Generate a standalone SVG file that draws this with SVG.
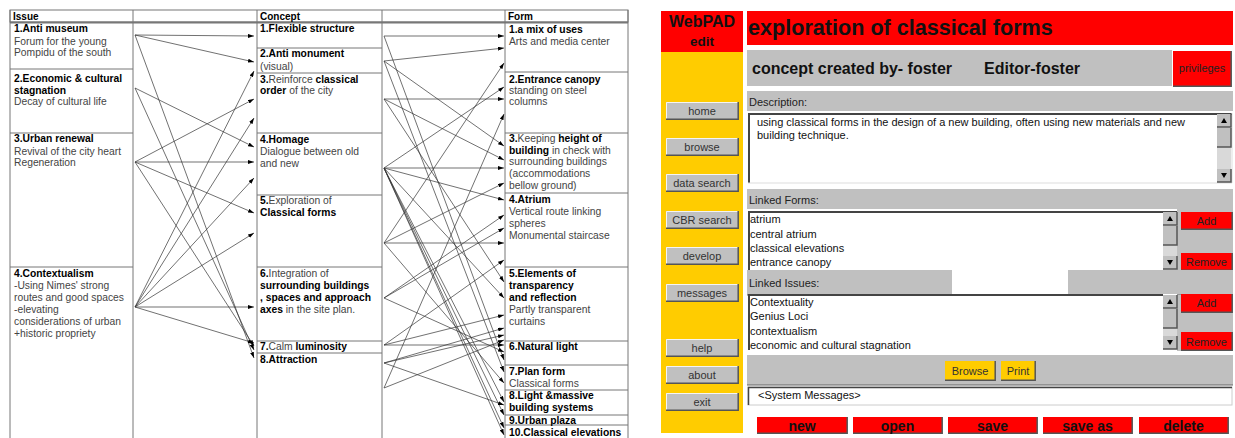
<svg xmlns="http://www.w3.org/2000/svg" width="1235" height="438" viewBox="0 0 1235 438">
<defs>
<marker id="ah" viewBox="0 0 6 4" refX="6" refY="2" markerWidth="6" markerHeight="4" orient="auto" markerUnits="userSpaceOnUse"><path d="M0,0 L6,2 L0,4 z" fill="#000"/></marker>
<style>
text{font-family:"Liberation Sans",Arial,sans-serif}
.h{font-size:10px;font-weight:bold;fill:#000}
.b{font-size:10.3px;font-weight:bold;fill:#000}
.n{font-size:10.3px;fill:#444}
.bb{font-weight:bold;fill:#000}
.nn{font-weight:normal;fill:#444}
.grid{stroke:#777;stroke-width:1;fill:none}
.conn line{stroke:#333;stroke-width:0.7;marker-end:url(#ah)}
.ui{font-size:11px;fill:#222}
.sb{fill:#c0c0c0}
.dk{stroke:#555;stroke-width:1.5;fill:none}
.lt{stroke:#f4f4f4;stroke-width:1;fill:none}
.red{fill:#ff0000}
.yel{fill:#ffcc00}
.btn{font-size:11px;fill:#333;text-anchor:middle}
.rbt{font-size:14px;font-weight:bold;fill:#111;text-anchor:middle}
.li{font-size:11px;fill:#111}
</style>
</defs>
<rect width="1235" height="438" fill="#fff"/>

<!-- table grid -->
<g id="table-grid" class="grid">
<rect x="10" y="10" width="618" height="12"/>
<line x1="10" y1="22.5" x2="628" y2="22.5" stroke-width="2"/>
<line x1="10" y1="10" x2="10" y2="438"/>
<line x1="133" y1="10" x2="133" y2="438"/>
<line x1="257" y1="10" x2="257" y2="438"/>
<line x1="382" y1="10" x2="382" y2="438"/>
<line x1="505" y1="10" x2="505" y2="438"/>
<line x1="628" y1="10" x2="628" y2="438"/>
<line x1="10" y1="69" x2="133" y2="69"/>
<line x1="10" y1="133" x2="133" y2="133"/>
<line x1="10" y1="267" x2="133" y2="267"/>
<line x1="257" y1="48" x2="382" y2="48"/>
<line x1="257" y1="73" x2="382" y2="73"/>
<line x1="257" y1="133" x2="382" y2="133"/>
<line x1="257" y1="195" x2="382" y2="195"/>
<line x1="257" y1="267" x2="382" y2="267"/>
<line x1="257" y1="341" x2="382" y2="341"/>
<line x1="257" y1="353" x2="382" y2="353"/>
<line x1="505" y1="72" x2="628" y2="72"/>
<line x1="505" y1="133" x2="628" y2="133"/>
<line x1="505" y1="193" x2="628" y2="193"/>
<line x1="505" y1="267" x2="628" y2="267"/>
<line x1="505" y1="341" x2="628" y2="341"/>
<line x1="505" y1="365" x2="628" y2="365"/>
<line x1="505" y1="390" x2="628" y2="390"/>
<line x1="505" y1="415" x2="628" y2="415"/>
<line x1="505" y1="425" x2="628" y2="425"/>
</g>

<g id="headers">
<text class="h" x="13" y="19.5">Issue</text>
<text class="h" x="260" y="19.5">Concept</text>
<text class="h" x="508" y="19.5">Form</text>
</g>

<g id="issue-1"><text class="b" x="14" y="32">1.Anti museum</text><text class="n" x="14" y="45">Forum for the young</text><text class="n" x="14" y="56">Pompidu of the south</text></g>
<g id="issue-2"><text class="b" x="14" y="82">2.Economic &amp; cultural</text><text class="b" x="14" y="94">stagnation</text><text class="n" x="14" y="105">Decay of cultural life</text></g>
<g id="issue-3"><text class="b" x="14" y="142">3.Urban renewal</text><text class="n" x="14" y="155">Revival of the city heart</text><text class="n" x="14" y="166">Regeneration</text></g>
<g id="issue-4"><text class="b" x="14" y="277">4.Contextualism</text><text class="n" x="14" y="289">-Using Nimes' strong</text><text class="n" x="14" y="301">routes and good spaces</text><text class="n" x="14" y="313">-elevating</text><text class="n" x="14" y="325">considerations of urban</text><text class="n" x="14" y="337">+historic propriety</text></g>

<g id="concept-1"><text class="b" x="260" y="32">1.Flexible structure</text></g>
<g id="concept-2"><text class="b" x="260" y="57">2.Anti monument</text><text class="n" x="260" y="70">(visual)</text></g>
<g id="concept-3"><text class="n" x="260" y="83"><tspan class="bb">3.</tspan>Reinforce <tspan class="bb">classical</tspan></text><text class="n" x="260" y="94"><tspan class="bb">order</tspan> of the city</text></g>
<g id="concept-4"><text class="b" x="260" y="143">4.Homage</text><text class="n" x="260" y="155">Dialogue between old</text><text class="n" x="260" y="167">and new</text></g>
<g id="concept-5"><text class="n" x="260" y="204"><tspan class="bb">5.</tspan>Exploration of</text><text class="b" x="260" y="216">Classical forms</text></g>
<g id="concept-6"><text class="n" x="260" y="277"><tspan class="bb">6.</tspan>Integration of</text><text class="b" x="260" y="289">surrounding buildings</text><text class="b" x="260" y="301">, spaces and approach</text><text class="n" x="260" y="313"><tspan class="bb">axes</tspan>  in the site plan.</text></g>
<g id="concept-7"><text class="n" x="260" y="350"><tspan class="bb">7.</tspan>Calm <tspan class="bb">luminosity</tspan></text></g>
<g id="concept-8"><text class="b" x="260" y="363">8.Attraction</text></g>

<g id="form-1"><text class="b" x="509" y="33">1.a mix of uses</text><text class="n" x="509" y="45">Arts and media center</text></g>
<g id="form-2"><text class="b" x="509" y="83">2.Entrance canopy</text><text class="n" x="509" y="94">standing on steel</text><text class="n" x="509" y="105">columns</text></g>
<g id="form-3"><text class="n" x="509" y="142"><tspan class="bb">3.</tspan>Keeping <tspan class="bb">height of</tspan></text><text class="n" x="509" y="154"><tspan class="bb">building</tspan> in check with</text><text class="n" x="509" y="165">surrounding buildings</text><text class="n" x="509" y="177">(accommodations</text><text class="n" x="509" y="189">bellow ground)</text></g>
<g id="form-4"><text class="b" x="509" y="203">4.Atrium</text><text class="n" x="509" y="215">Vertical route linking</text><text class="n" x="509" y="227">spheres</text><text class="n" x="509" y="239">Monumental staircase</text></g>
<g id="form-5"><text class="b" x="509" y="277">5.Elements of</text><text class="b" x="509" y="289">transparency</text><text class="b" x="509" y="301">and reflection</text><text class="n" x="509" y="313">Partly transparent</text><text class="n" x="509" y="325">curtains</text></g>
<g id="form-6"><text class="b" x="509" y="350">6.Natural light</text></g>
<g id="form-7"><text class="b" x="509" y="375">7.Plan form</text><text class="n" x="509" y="387">Classical forms</text></g>
<g id="form-8"><text class="b" x="509" y="399">8.Light &amp;massive</text><text class="b" x="509" y="411">building systems</text></g>
<g id="form-9"><text class="b" x="509" y="423.5">9.Urban plaza</text></g>
<g id="form-10"><text class="b" x="509" y="436">10.Classical elevations</text></g>

<g id="connectors" class="conn">
<line x1="135" y1="35" x2="254" y2="36"/>
<line x1="135" y1="35" x2="254" y2="62"/>
<line x1="135" y1="35" x2="254" y2="358"/>
<line x1="135" y1="88" x2="254" y2="147"/>
<line x1="135" y1="88" x2="254" y2="350"/>
<line x1="135" y1="162" x2="254" y2="99"/>
<line x1="135" y1="162" x2="254" y2="162"/>
<line x1="135" y1="162" x2="254" y2="213"/>
<line x1="135" y1="162" x2="254" y2="346"/>
<line x1="135" y1="307" x2="254" y2="71"/>
<line x1="135" y1="307" x2="254" y2="118"/>
<line x1="135" y1="307" x2="254" y2="178"/>
<line x1="135" y1="307" x2="254" y2="233"/>
<line x1="135" y1="307" x2="254" y2="307"/>
<line x1="135" y1="307" x2="254" y2="343"/>

<line x1="384" y1="36" x2="504" y2="36"/>
<line x1="384" y1="36" x2="504" y2="360"/>
<line x1="384" y1="61" x2="504" y2="48"/>
<line x1="384" y1="61" x2="504" y2="146"/>
<line x1="384" y1="61" x2="504" y2="372"/>
<line x1="384" y1="99" x2="504" y2="99"/>
<line x1="384" y1="99" x2="504" y2="160"/>
<line x1="384" y1="99" x2="504" y2="282"/>
<line x1="384" y1="168" x2="504" y2="87"/>
<line x1="384" y1="168" x2="504" y2="168"/>
<line x1="384" y1="168" x2="504" y2="200"/>
<line x1="384" y1="168" x2="504" y2="298"/>
<line x1="384" y1="168" x2="504" y2="402"/>
<line x1="384" y1="168" x2="504" y2="415"/>
<line x1="384" y1="168" x2="504" y2="428"/>
<line x1="384" y1="168" x2="504" y2="435"/>
<line x1="384" y1="243" x2="504" y2="63"/>
<line x1="384" y1="243" x2="504" y2="183"/>
<line x1="384" y1="243" x2="504" y2="243"/>
<line x1="384" y1="243" x2="504" y2="383"/>
<line x1="384" y1="298" x2="504" y2="215"/>
<line x1="384" y1="298" x2="504" y2="228"/>
<line x1="384" y1="298" x2="504" y2="352"/>
<line x1="384" y1="345" x2="504" y2="260"/>
<line x1="384" y1="345" x2="504" y2="315"/>
<line x1="384" y1="345" x2="504" y2="345"/>
<line x1="384" y1="363" x2="504" y2="328"/>
<line x1="384" y1="363" x2="504" y2="335"/>
<line x1="384" y1="363" x2="504" y2="405"/>
<line x1="384" y1="388" x2="504" y2="114"/>
<line x1="384" y1="388" x2="504" y2="340"/>
</g>

<!-- WebPAD screen -->
<g id="sidebar">
<rect class="red" x="661" y="11" width="82" height="41"/>
<rect class="yel" x="661" y="52" width="82" height="381"/>
<text x="702" y="27" text-anchor="middle" font-size="16" font-weight="bold" fill="#111">WebPAD</text>
<text x="702" y="45.5" text-anchor="middle" font-size="13.5" font-weight="bold" fill="#111">edit</text>
</g>
<g id="btn-home"><rect class="sb" x="666" y="102" width="72" height="17"/><path class="lt" d="M666.5,119 V102.5 H738"/><path class="dk" d="M666,119.2 H738.2 V102"/><text class="btn" x="702" y="115">home</text></g>
<g id="btn-browse"><rect class="sb" x="666" y="138" width="72" height="17"/><path class="lt" d="M666.5,155 V138.5 H738"/><path class="dk" d="M666,155.2 H738.2 V138"/><text class="btn" x="702" y="151">browse</text></g>
<g id="btn-data-search"><rect class="sb" x="666" y="174" width="72" height="17"/><path class="lt" d="M666.5,191 V174.5 H738"/><path class="dk" d="M666,191.2 H738.2 V174"/><text class="btn" x="702" y="187">data search</text></g>
<g id="btn-cbr-search"><rect class="sb" x="666" y="211" width="72" height="17"/><path class="lt" d="M666.5,228 V211.5 H738"/><path class="dk" d="M666,228.2 H738.2 V211"/><text class="btn" x="702" y="224">CBR search</text></g>
<g id="btn-develop"><rect class="sb" x="666" y="247" width="72" height="17"/><path class="lt" d="M666.5,264 V247.5 H738"/><path class="dk" d="M666,264.2 H738.2 V247"/><text class="btn" x="702" y="260">develop</text></g>
<g id="btn-messages"><rect class="sb" x="666" y="284" width="72" height="17"/><path class="lt" d="M666.5,301 V284.5 H738"/><path class="dk" d="M666,301.2 H738.2 V284"/><text class="btn" x="702" y="297">messages</text></g>
<g id="btn-help"><rect class="sb" x="666" y="339" width="72" height="17"/><path class="lt" d="M666.5,356 V339.5 H738"/><path class="dk" d="M666,356.2 H738.2 V339"/><text class="btn" x="702" y="352">help</text></g>
<g id="btn-about"><rect class="sb" x="666" y="366" width="72" height="17"/><path class="lt" d="M666.5,383 V366.5 H738"/><path class="dk" d="M666,383.2 H738.2 V366"/><text class="btn" x="702" y="379">about</text></g>
<g id="btn-exit"><rect class="sb" x="666" y="393" width="72" height="17"/><path class="lt" d="M666.5,410 V393.5 H738"/><path class="dk" d="M666,410.2 H738.2 V393"/><text class="btn" x="702" y="406">exit</text></g>

<g id="title-bar">
<rect class="red" x="747" y="11" width="486" height="34"/>
<text x="748" y="35" font-size="21.6" font-weight="bold" fill="#111">exploration of classical forms</text>
</g>
<g id="creator-bar">
<rect class="sb" x="747" y="50" width="425" height="36"/>
<text x="752" y="74" font-size="16" font-weight="bold" fill="#111">concept created by- foster</text>
<text x="984" y="74" font-size="16" font-weight="bold" fill="#111">Editor-foster</text>
</g>
<g id="btn-privileges">
<rect class="red" x="1173" y="51" width="58" height="35"/>
<path class="dk" d="M1173,86.2 H1231.2 V51"/>
<text x="1202" y="72" font-size="11" fill="#222" text-anchor="middle">privileges</text>
</g>

<g id="description">
<rect class="sb" x="747" y="91" width="486" height="20"/>
<text class="ui" x="749" y="106">Description:</text>
<rect x="748" y="113" width="484" height="70" fill="#fff"/>
<path d="M749,183 V114 H1232" stroke="#444" stroke-width="2" fill="none"/>
<path d="M748,183 H1232 V113" stroke="#ddd" stroke-width="1" fill="none"/>
<text class="li" x="757" y="126">using classical forms in the design of a new building, often using new materials and new</text>
<text class="li" x="757" y="139">building technique.</text>
<rect x="1217" y="114" width="14" height="68" fill="#d9d9d9"/>
<rect class="sb" x="1217" y="114" width="14" height="13"/><path class="dk" d="M1217,127 H1231 V114" stroke-width="1"/><path d="M1221,123 L1224,118 L1227,123 z" fill="#000"/>
<rect class="sb" x="1217" y="128" width="14" height="19"/><path class="dk" d="M1217,147 H1231 V128" stroke-width="1"/>
<rect class="sb" x="1217" y="169" width="14" height="13"/><path class="dk" d="M1217,182 H1231 V169" stroke-width="1"/><path d="M1221,173 L1224,178 L1227,173 z" fill="#000"/>
</g>

<g id="linked-forms">
<rect class="sb" x="747" y="189" width="486" height="20"/>
<rect class="sb" x="1177" y="209" width="56" height="63"/>
<text class="ui" x="749" y="204">Linked Forms:</text>
<rect x="748" y="211" width="429" height="61" fill="#fff"/>
<path d="M749,272 V212 H1177" stroke="#444" stroke-width="2" fill="none"/>
<text class="li" x="750" y="223">atrium</text>
<text class="li" x="750" y="238">central atrium</text>
<text class="li" x="750" y="252">classical elevations</text>
<text class="li" x="750" y="266">entrance canopy</text>
<rect x="1163" y="212" width="14" height="58" fill="#d9d9d9"/>
<rect class="sb" x="1163" y="212" width="14" height="13"/><path class="dk" d="M1163,225 H1177 V212" stroke-width="1"/><path d="M1167,221 L1170,216 L1173,221 z" fill="#000"/>
<rect class="sb" x="1163" y="226" width="14" height="19"/><path class="dk" d="M1163,245 H1177 V226" stroke-width="1"/>
<rect class="sb" x="1163" y="256" width="14" height="13"/><path class="dk" d="M1163,269 H1177 V256" stroke-width="1"/><path d="M1167,260 L1170,265 L1173,260 z" fill="#000"/>
</g>
<g id="btn-add-forms"><rect class="red" x="1181" y="212" width="51" height="17"/><path class="dk" d="M1181,229.2 H1232.2 V212"/><text x="1206.5" y="225" font-size="11" fill="#222" text-anchor="middle">Add</text></g>
<g id="btn-remove-forms"><rect class="red" x="1181" y="253" width="51" height="17"/><path class="dk" d="M1181,270.2 H1232.2 V253"/><text x="1206.5" y="266" font-size="11" fill="#222" text-anchor="middle">Remove</text></g>

<g id="linked-issues">
<rect class="sb" x="747" y="270" width="205" height="25"/>
<rect class="sb" x="1068" y="270" width="165" height="25"/>
<path d="M747,295 H952 M1068,295 H1233" stroke="#666" stroke-width="1"/>
<rect class="sb" x="1177" y="295" width="56" height="56"/>
<text class="ui" x="749" y="287">Linked Issues:</text>
<rect x="748" y="294" width="429" height="56" fill="#fff"/>
<path d="M749,350 V295 H1163" stroke="#444" stroke-width="2" fill="none"/>
<text class="li" x="750" y="306">Contextuality</text>
<text class="li" x="750" y="320">Genius Loci</text>
<text class="li" x="750" y="335">contextualism</text>
<text class="li" x="750" y="349">economic and cultural stagnation</text>
<rect x="1163" y="295" width="14" height="54" fill="#d9d9d9"/>
<rect class="sb" x="1163" y="295" width="14" height="13"/><path class="dk" d="M1163,308 H1177 V295" stroke-width="1"/><path d="M1167,304 L1170,299 L1173,304 z" fill="#000"/>
<rect class="sb" x="1163" y="309" width="14" height="19"/><path class="dk" d="M1163,328 H1177 V309" stroke-width="1"/>
<rect class="sb" x="1163" y="336" width="14" height="13"/><path class="dk" d="M1163,349 H1177 V336" stroke-width="1"/><path d="M1167,340 L1170,345 L1173,340 z" fill="#000"/>
</g>
<g id="btn-add-issues"><rect class="red" x="1181" y="294" width="51" height="18"/><path class="dk" d="M1181,312.2 H1232.2 V294"/><text x="1206.5" y="307" font-size="11" fill="#222" text-anchor="middle">Add</text></g>
<g id="btn-remove-issues"><rect class="red" x="1181" y="332" width="51" height="18"/><path class="dk" d="M1181,350.2 H1232.2 V332"/><text x="1206.5" y="345.5" font-size="11" fill="#222" text-anchor="middle">Remove</text></g>

<g id="action-bar">
<rect class="sb" x="747" y="355" width="486" height="30"/>
<path d="M747,385 H1233" stroke="#666" stroke-width="1"/>
</g>
<g id="btn-browse-yellow"><rect class="yel" x="945" y="361" width="50" height="19"/><path class="dk" d="M945,380.2 H995.2 V361"/><text x="970" y="375" font-size="11" fill="#333" text-anchor="middle">Browse</text></g>
<g id="btn-print"><rect class="yel" x="1001" y="361" width="34" height="19"/><path class="dk" d="M1001,380.2 H1035.2 V361"/><text x="1018" y="375" font-size="11" fill="#333" text-anchor="middle">Print</text></g>

<g id="system-messages">
<rect x="748" y="387" width="484" height="18" fill="#fff" stroke="#ccc" stroke-width="1"/>
<path d="M748.5,405 V387.5 H1232" stroke="#444" stroke-width="1.5" fill="none"/>
<text class="li" x="758" y="399" fill="#222">&lt;System Messages&gt;</text>
</g>

<g id="btn-new"><rect class="red" x="757" y="417" width="90" height="16"/><path class="dk" d="M757,433.2 H847.2 V417"/><text class="rbt" x="802" y="430.5">new</text></g>
<g id="btn-open"><rect class="red" x="853" y="417" width="89" height="16"/><path class="dk" d="M853,433.2 H942.2 V417"/><text class="rbt" x="897.5" y="430.5">open</text></g>
<g id="btn-save"><rect class="red" x="948" y="417" width="89" height="16"/><path class="dk" d="M948,433.2 H1037.2 V417"/><text class="rbt" x="992.5" y="430.5">save</text></g>
<g id="btn-save-as"><rect class="red" x="1043" y="417" width="89" height="16"/><path class="dk" d="M1043,433.2 H1132.2 V417"/><text class="rbt" x="1087.5" y="430.5">save as</text></g>
<g id="btn-delete"><rect class="red" x="1139" y="417" width="89" height="16"/><path class="dk" d="M1139,433.2 H1228.2 V417"/><text class="rbt" x="1183.5" y="430.5">delete</text></g>
</svg>
